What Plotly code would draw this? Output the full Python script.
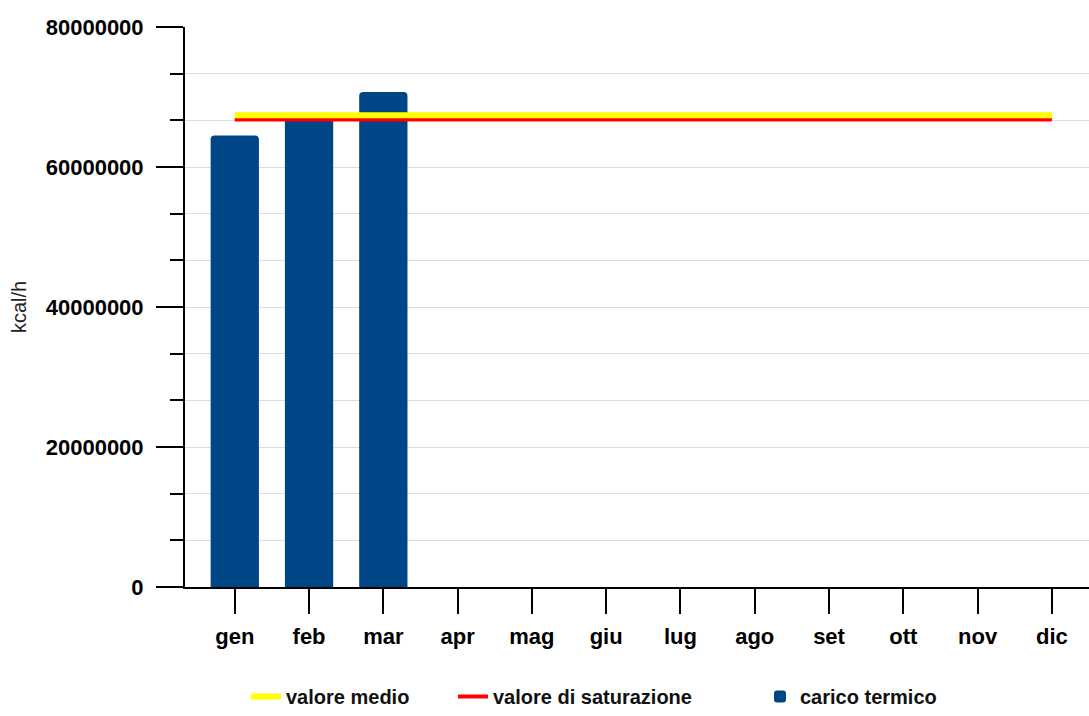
import plotly.graph_objects as go

months = ["gen", "feb", "mar", "apr", "mag", "giu", "lug", "ago", "set", "ott", "nov", "dic"]
carico_termico = [64500000, 67500000, 70700000, None, None, None, None, None, None, None, None, None]
valore_medio = [67400000] * 12
valore_saturazione = [66800000] * 12

FONT = "Liberation Sans, Arial, sans-serif"
LEGEND_FONT = dict(size=20, family=FONT, weight="bold", color="#111111")

fig = go.Figure()
fig.add_trace(go.Bar(
    x=months, y=carico_termico, name="carico termico",
    marker=dict(color="#004586", line=dict(width=0)), width=0.65,
    legend="legend3",
))
fig.add_trace(go.Scatter(
    x=months, y=valore_saturazione, name="valore di saturazione", mode="lines",
    line=dict(color="#ff0000", width=4), legend="legend2",
))
fig.add_trace(go.Scatter(
    x=months, y=valore_medio, name="valore medio", mode="lines",
    line=dict(color="#ffff00", width=6), legend="legend",
))

def leg(x):
    return dict(
        orientation="h", xref="container", yref="container",
        x=x, xanchor="left", y=-0.008, yanchor="bottom",
        font=LEGEND_FONT, bgcolor="rgba(0,0,0,0)",
    )

fig.update_layout(
    width=1089, height=716,
    margin=dict(l=185, r=0, t=27, b=129, autoexpand=False),
    paper_bgcolor="white", plot_bgcolor="white",
    font=dict(family=FONT, color="#000000"),
    barcornerradius=4,
    hovermode=False,
    showlegend=True,
    legend=leg((288 - 42) / 1089),
    legend2=leg((495 - 42) / 1089),
    legend3=leg((802 - 42) / 1089),
    xaxis=dict(
        type="category", range=[-0.67, 11.5], automargin=False,
        showline=True, linecolor="#000000", linewidth=2,
        ticks="outside", ticklen=25, tickwidth=2, tickcolor="#000000",
        ticklabelstandoff=4,
        tickfont=dict(size=22, family=FONT, weight="bold", color="#000000"),
        showgrid=False, zeroline=False,
    ),
    yaxis=dict(
        range=[0, 80000000], dtick=20000000, tick0=0, automargin=False,
        tickformat="d",
        showline=True, linecolor="#000000", linewidth=2,
        ticks="outside", ticklen=27, tickwidth=2, tickcolor="#000000",
        ticklabelstandoff=8,
        tickfont=dict(size=22, family=FONT, weight="bold", color="#000000"),
        showgrid=True, gridcolor="#dddddd", gridwidth=1,
        zeroline=False,
        minor=dict(dtick=20000000 / 3, ticks="outside", ticklen=13, tickwidth=2,
                   tickcolor="#000000", showgrid=True, gridcolor="#dddddd", gridwidth=1),
        title=dict(text="kcal/h", font=dict(size=20, family=FONT, color="#222222"), standoff=14),
    ),
)

fig.write_html(
    "out.html",
    config={"displayModeBar": False, "staticPlot": True},
    post_script="document.body.style.margin='0';document.body.style.overflow='hidden';",
)
